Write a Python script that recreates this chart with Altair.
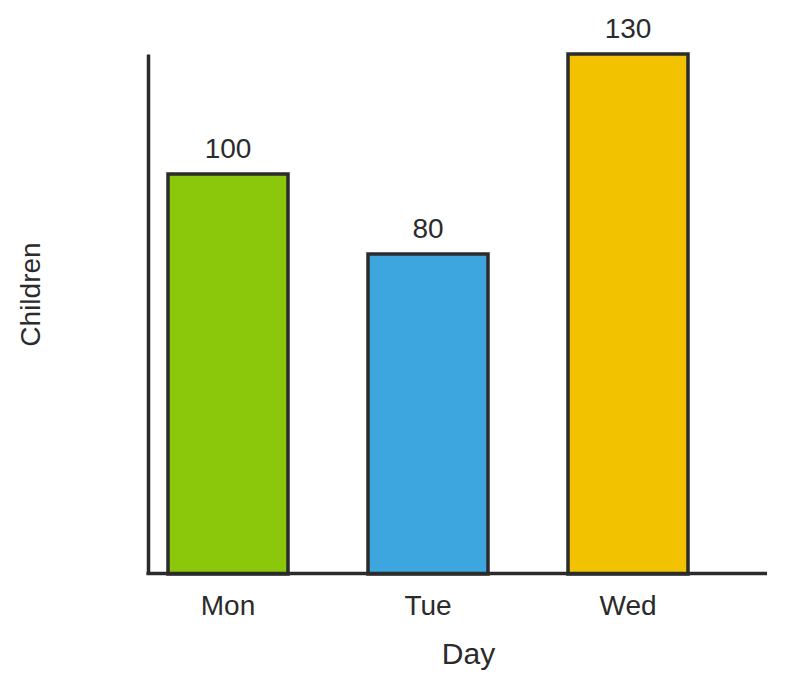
import altair as alt
import pandas as pd

days = ["Mon", "Tue", "Wed"]
children = [100, 80, 130]
colors = ["#8BC70A", "#3EA6DF", "#F2C200"]

df = pd.DataFrame({"Day": days, "Children": children, "Color": colors})

FONT = "Liberation Sans"
INK = "#2b2b2b"

base = alt.Chart(df)

xenc = alt.X(
    "Day:N",
    sort=days,
    scale=alt.Scale(paddingInner=0.4, paddingOuter=0.1),
    axis=alt.Axis(
        title="Day",
        domain=False,
        ticks=False,
        tickSize=0,
        grid=False,
        labelAngle=0,
        labelFont=FONT,
        labelFontSize=28,
        labelColor=INK,
        labelBaseline="alphabetic",
        labelPadding=40,
        titleFont=FONT,
        titleFontSize=30,
        titleFontWeight="normal",
        titleColor=INK,
        titleBaseline="alphabetic",
        titleX=320,
        titleY=89,
    ),
)

yenc = alt.Y(
    "Children:Q",
    scale=alt.Scale(domain=[0, 130], nice=False, zero=True),
    axis=alt.Axis(
        title="Children",
        grid=False,
        ticks=False,
        labels=False,
        domain=True,
        domainColor=INK,
        domainWidth=3.5,
        titleFont=FONT,
        titleFontSize=28,
        titleFontWeight="normal",
        titleColor=INK,
        titleBaseline="alphabetic",
        titleAngle=270,
        titleX=-109,
        titleY=240,
    ),
)

bars = base.mark_bar(stroke=INK, strokeWidth=3.5).encode(
    x=xenc,
    y=yenc,
    color=alt.Color("Color:N", scale=None),
)

labels = base.mark_text(
    font=FONT, fontSize=28, color=INK, baseline="alphabetic", dy=-16
).encode(
    x=alt.X("Day:N", sort=days),
    y=alt.Y("Children:Q"),
    text=alt.Text("Children:Q"),
)

xaxis_line = alt.Chart(pd.DataFrame({"a": [0]})).mark_rule(
    color=INK, strokeWidth=3.5
).encode(x=alt.value(-1.5), x2=alt.value(619), y=alt.value(519.5))

chart = (
    alt.layer(bars, labels, xaxis_line)
    .properties(
        width=560,
        height=520,
        autosize=alt.AutoSizeParams(type="none"),
        padding={"left": 140, "top": 46, "right": 70, "bottom": 106},
        view=alt.ViewBackground(strokeOpacity=0, strokeWidth=0),
    )
    .configure_view(strokeOpacity=0, strokeWidth=0)
    .configure_axis(grid=False)
    .configure(background="white")
)

chart.save("out.html", embed_options={"renderer": "svg", "actions": False})
